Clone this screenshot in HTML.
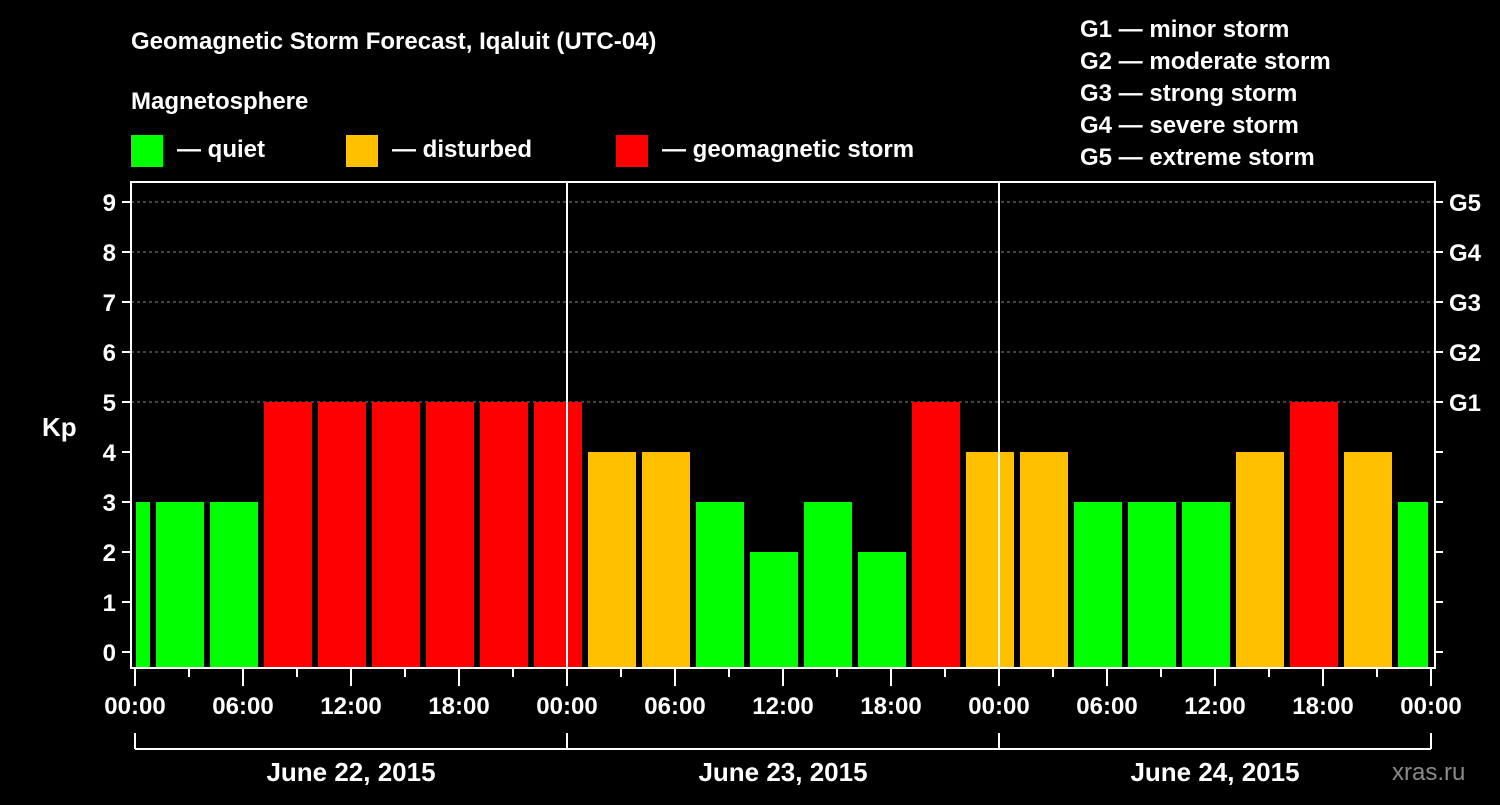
<!DOCTYPE html>
<html><head><meta charset="utf-8"><style>
body{margin:0;background:#000;width:1500px;height:800px;overflow:hidden}
text{font-family:"Liberation Sans",Arial,sans-serif;font-weight:bold;fill:#fff}
</style></head><body>
<svg id="chart" width="1500" height="800" xmlns="http://www.w3.org/2000/svg">
<rect width="1500" height="800" fill="#000"/>
<text x="131" y="49" font-size="24">Geomagnetic Storm Forecast, Iqaluit (UTC-04)</text>
<text x="131" y="109" font-size="24">Magnetosphere</text>
<rect x="131" y="135" width="32" height="32" fill="#00ff00"/>
<text x="177" y="157" font-size="24">— quiet</text>
<rect x="346" y="135" width="32" height="32" fill="#ffc000"/>
<text x="392" y="157" font-size="24">— disturbed</text>
<rect x="616" y="135" width="32" height="32" fill="#ff0000"/>
<text x="662" y="157" font-size="24">— geomagnetic storm</text>
<g font-size="24">
<text x="1080" y="37">G1 — minor storm</text>
<text x="1080" y="69">G2 — moderate storm</text>
<text x="1080" y="101">G3 — strong storm</text>
<text x="1080" y="133">G4 — severe storm</text>
<text x="1080" y="165">G5 — extreme storm</text>
</g>
<text x="42" y="436" font-size="26">Kp</text>
<text x="1392" y="780" font-size="24" fill="#888" style="fill:#8a8a8a;font-weight:normal">xras.ru</text>
<g id="plot"></g>
</svg>
<script>
const values=[3,3,3,5,5,5,5,5,5,4,4,3,2,3,2,5,4,4,3,3,3,4,5,4,3];
const yTicks=[0,1,2,3,4,5,6,7,8,9];
const gLabels=["G1","G2","G3","G4","G5"];
const timeLabels=["00:00","06:00","12:00","18:00"];
const dayLabels=["June 22, 2015","June 23, 2015","June 24, 2015"];
const L=131,R=1435,T=182,B=668,X0=135,PXH=18;
const xh=h=>X0+h*PXH;
const y=v=>652-50*v;
const g=document.getElementById('plot');
const NS="http://www.w3.org/2000/svg";
function mk(tag,a){const e=document.createElementNS(NS,tag);for(const k in a)e.setAttribute(k,a[k]);g.appendChild(e);return e;}
function col(v){return v>=5?"#ff0000":v>=4?"#ffc000":"#00ff00";}
// grid
for(let v=5;v<=9;v++){const l=mk('line',{x1:L,x2:R,y1:y(v),y2:y(v),stroke:"#888","stroke-dasharray":"3,3","stroke-width":1});

}
// bars
values.forEach((v,i)=>{const c=-0.5+3*i;let x1=xh(c-1.333),x2=xh(c+1.333);x1=Math.max(x1,136);x2=Math.min(x2,1428);
const r=mk('rect',{x:x1,y:y(v),width:x2-x1,height:B-y(v),fill:col(v)});

});
// day lines
[1,2].forEach(d=>{const l=mk('line',{x1:xh(24*d),x2:xh(24*d),y1:T,y2:B,stroke:"#fff","stroke-width":2});

});
// frame
const f=mk('rect',{x:L,y:T,width:R-L,height:B-T,fill:"none",stroke:"#fff","stroke-width":2});


// y ticks
yTicks.forEach(v=>{mk('line',{x1:122,x2:L,y1:y(v),y2:y(v),stroke:"#fff","stroke-width":2});
mk('line',{x1:R,x2:1443,y1:y(v),y2:y(v),stroke:"#fff","stroke-width":2});
const t=mk('text',{x:116,y:y(v)+9,"font-size":24,"text-anchor":"end"});t.textContent=v;

});
gLabels.forEach((s,i)=>{const t=mk('text',{x:1449,y:y(5+i)+9,"font-size":24});t.textContent=s;

});
// x ticks
for(let h=0;h<=72;h+=3){const maj=h%6===0;mk('line',{x1:xh(h),x2:xh(h),y1:B,y2:maj?686:677,stroke:"#fff","stroke-width":2});}
for(let h=0;h<=72;h+=6){const t=mk('text',{x:xh(h),y:714,"font-size":24,"text-anchor":"middle"});t.textContent=timeLabels[(h/6)%4];

}
// day bracket
mk('line',{x1:xh(0),x2:xh(72),y1:749,y2:749,stroke:"#fff","stroke-width":2});
for(let d=0;d<=3;d++)mk('line',{x1:xh(24*d),x2:xh(24*d),y1:733,y2:749,stroke:"#fff","stroke-width":2});
dayLabels.forEach((s,i)=>{const t=mk('text',{x:xh(24*i+12),y:781,"font-size":26,"text-anchor":"middle"});t.textContent=s;

});
</script>
</body></html>
